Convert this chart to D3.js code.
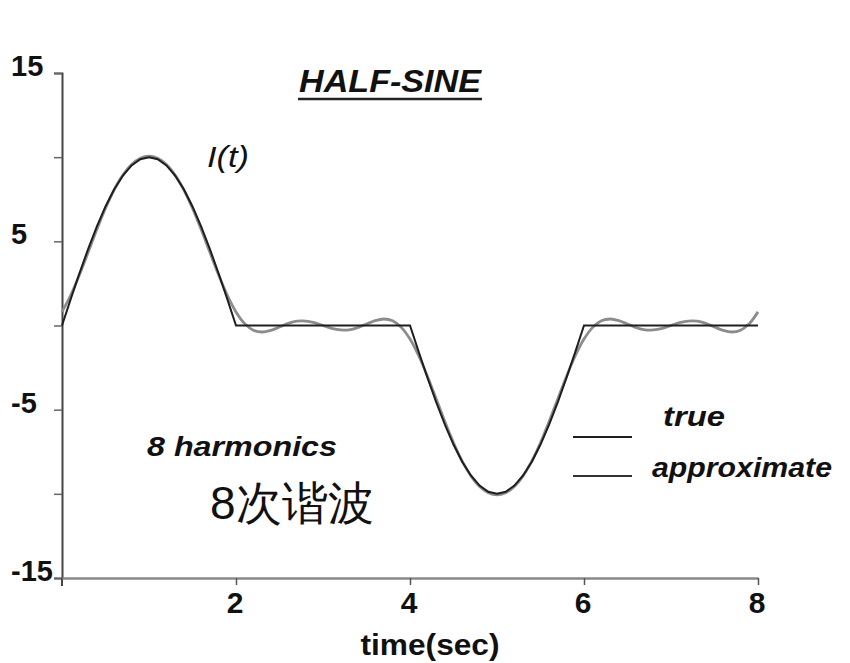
<!DOCTYPE html>
<html>
<head>
<meta charset="utf-8">
<script src="https://cdn.jsdelivr.net/npm/d3@7"></script>
<style>
  html, body { margin: 0; padding: 0; background: #fff; }
  svg { display: block; }
  text { font-family: "Liberation Sans", Arial, Helvetica, sans-serif; fill: #111; }
</style>
</head>
<body>
<svg id="chart" width="850" height="663"></svg>
<script>
// ---- data ----
const timeSec = [0,0.1,0.2,0.3,0.4,0.5,0.6,0.7,0.8,0.9,1,1.1,1.2,1.3,1.4,1.5,1.6,1.7,1.8,1.9,2,
  2.1,2.2,2.3,2.4,2.5,2.6,2.7,2.8,2.9,3,3.1,3.2,3.3,3.4,3.5,3.6,3.7,3.8,3.9,4,
  4.1,4.2,4.3,4.4,4.5,4.6,4.7,4.8,4.9,5,5.1,5.2,5.3,5.4,5.5,5.6,5.7,5.8,5.9,6,
  6.1,6.2,6.3,6.4,6.5,6.6,6.7,6.8,6.9,7,7.1,7.2,7.3,7.4,7.5,7.6,7.7,7.8,7.9,8];

const trueValues = [0,1.564,3.090,4.540,5.878,7.071,8.090,8.910,9.511,9.877,10,9.877,9.511,8.910,8.090,7.071,5.878,4.540,3.090,1.564,0,
  0,0,0,0,0,0,0,0,0,0,0,0,0,0,0,0,0,0,0,0,
  -1.564,-3.090,-4.540,-5.878,-7.071,-8.090,-8.910,-9.511,-9.877,-10,-9.877,-9.511,-8.910,-8.090,-7.071,-5.878,-4.540,-3.090,-1.564,0,
  0,0,0,0,0,0,0,0,0,0,0,0,0,0,0,0,0,0,0,0];

const approxValues = [0.809,1.797,3.010,4.346,5.700,6.965,8.061,8.933,9.561,9.936,10.060,9.936,9.561,8.933,8.061,6.965,5.700,4.346,3.010,1.797,0.809,
  0.111,-0.277,-0.386,-0.289,-0.085,0.123,0.254,0.266,0.168,0,-0.168,-0.266,-0.254,-0.123,0.085,0.289,0.386,0.277,-0.111,-0.809,
  -1.797,-3.010,-4.346,-5.700,-6.965,-8.061,-8.933,-9.561,-9.936,-10.060,-9.936,-9.561,-8.933,-8.061,-6.965,-5.700,-4.346,-3.010,-1.797,-0.809,
  -0.111,0.277,0.386,0.289,0.085,-0.123,-0.254,-0.266,-0.168,0,0.168,0.266,0.254,0.123,-0.085,-0.289,-0.386,-0.277,0.111,0.809];

const yTicks = [-15,-10,-5,0,5,10,15];
const yTickLabels = [15,5,-5,-15];
const xTicks = [2,4,6,8];
const seriesNames = ["true","approximate"];
const titleText = "HALF-SINE";
const xTitle = "time(sec)";
const curveLabel = "I(t)";
const noteText = "8 harmonics";
const noteZh = "8次谐波";

// ---- layout ----
const svg = d3.select("#chart");
const x = d3.scaleLinear().domain([0, 8]).range([62, 758]);
const y = d3.scaleLinear().domain([-15, 15]).range([578, 73]);

// y axis
const yAxis = svg.append("g")
  .attr("transform", "translate(62,0)")
  .call(d3.axisLeft(y).tickValues(yTicks).tickSize(8).tickSizeOuter(8).tickFormat(""));
yAxis.select(".domain").attr("stroke", "#444").attr("stroke-width", 2);
yAxis.selectAll(".tick line").attr("stroke", "#666").attr("stroke-width", 1.5);
svg.append("line").attr("x1", 62).attr("x2", 62).attr("y1", y(-15)).attr("y2", y(-15) + 8)
  .attr("stroke", "#444").attr("stroke-width", 2);

svg.append("g").selectAll("text").data(yTickLabels).join("text")
  .attr("x", 11).attr("y", d => y(d) + 3)
  .attr("font-size", 29).attr("font-weight", "bold")
  .text(d => d);

// x axis
const xAxis = svg.append("g")
  .attr("transform", `translate(0,${y(-15)})`)
  .call(d3.axisBottom(x).tickValues(xTicks).tickSize(7).tickSizeOuter(0).tickFormat(""));
xAxis.select(".domain").attr("stroke", "#888").attr("stroke-width", 2.5);
xAxis.selectAll(".tick line").attr("stroke", "#555").attr("stroke-width", 1.5);

svg.append("g").selectAll("text").data(xTicks).join("text")
  .attr("x", d => x(d) - 1).attr("y", 613)
  .attr("text-anchor", "middle")
  .attr("font-size", 30).attr("font-weight", "bold")
  .text(d => d);

svg.append("text").attr("x", 430).attr("y", 655)
  .attr("text-anchor", "middle").attr("font-size", 30).attr("font-weight", "bold")
  .attr("textLength", 139).attr("lengthAdjust", "spacingAndGlyphs")
  .text(xTitle);

// curves
const pts = (vals) => timeSec.map((t, i) => [t, vals[i]]);
const approxLine = d3.line().x(d => x(d[0])).y(d => y(d[1])).curve(d3.curveCatmullRom.alpha(0.5));
const trueLine = d3.line().x(d => x(d[0])).y(d => y(d[1])).curve(d3.curveLinear);

svg.append("path").datum(pts(approxValues))
  .attr("d", approxLine).attr("fill", "none")
  .attr("stroke", "#8c8c8c").attr("stroke-width", 2.8);
svg.append("path").datum(pts(trueValues))
  .attr("d", trueLine).attr("fill", "none")
  .attr("stroke", "#1e1e1e").attr("stroke-width", 2);

// title
svg.append("text").attr("x", 299).attr("y", 92)
  .attr("font-size", 31).attr("font-weight", "bold").attr("font-style", "italic")
  .attr("textLength", 182).attr("lengthAdjust", "spacingAndGlyphs")
  .text(titleText);
svg.append("line").attr("x1", 298).attr("x2", 482).attr("y1", 99).attr("y2", 99)
  .attr("stroke", "#222").attr("stroke-width", 2.5);

// I(t)
svg.append("text").attr("x", 207).attr("y", 167)
  .attr("font-size", 30).attr("font-style", "italic")
  .attr("textLength", 42).attr("lengthAdjust", "spacingAndGlyphs")
  .text(curveLabel);

// notes
svg.append("text").attr("x", 147).attr("y", 456)
  .attr("font-size", 27).attr("font-weight", "bold").attr("font-style", "italic").attr("fill", "#222")
  .attr("textLength", 190).attr("lengthAdjust", "spacingAndGlyphs")
  .text(noteText);
svg.append("text").attr("x", 210).attr("y", 519)
  .attr("font-family", "'Noto Sans CJK SC', sans-serif")
  .attr("font-size", 46).attr("fill", "#000")
  .text(noteZh);

// legend
const legendY = [437, 476];
const legendTextX = [663, 652];
const legendTextY = [426, 477];
const legendColors = ["#1e1e1e", "#333"];
const lg = svg.append("g");
lg.selectAll("line").data(seriesNames).join("line")
  .attr("x1", 573).attr("x2", 632)
  .attr("y1", (d, i) => legendY[i]).attr("y2", (d, i) => legendY[i])
  .attr("stroke", (d, i) => legendColors[i]).attr("stroke-width", 2);
lg.selectAll("text").data(seriesNames).join("text")
  .attr("x", (d, i) => legendTextX[i]).attr("y", (d, i) => legendTextY[i])
  .attr("font-size", 27).attr("font-weight", "bold").attr("font-style", "italic").attr("fill", "#222")
  .attr("textLength", (d, i) => [62, 180][i]).attr("lengthAdjust", "spacingAndGlyphs")
  .text(d => d);
</script>
</body>
</html>
